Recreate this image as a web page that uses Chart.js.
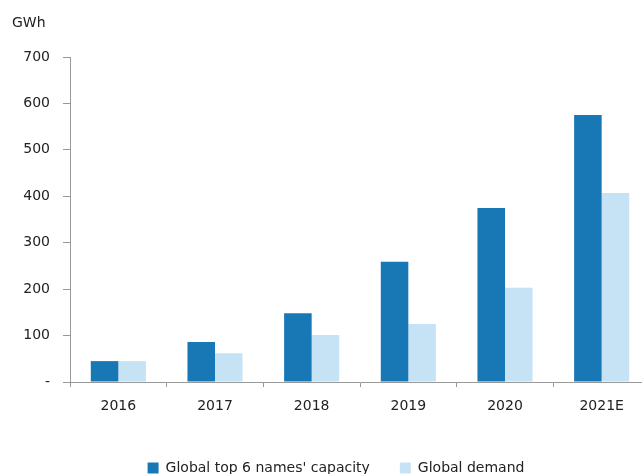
<!DOCTYPE html>
<html>
<head>
<meta charset="utf-8">
<script src="https://cdn.jsdelivr.net/npm/chart.js@4"></script>
<style>
  body { margin: 0; background: #fff; overflow: hidden; }
  #wrap { width: 642px; height: 474px; overflow: hidden; }
  #wrap div { width: 650px; height: 485px; }
</style>
</head>
<body>
<div id="wrap"><div><canvas id="capacityChart"></canvas></div></div>
<script>
var years = ['2016', '2017', '2018', '2019', '2020', '2021E'];
var top6Capacity = [45, 86, 148, 259, 375, 575];
var globalDemand = [45, 62, 101, 125, 203, 407];
var yTicks = [0, 100, 200, 300, 400, 500, 600, 700];

var font = "'DejaVu Sans', sans-serif";

// unit label above the value axis
var unitLabel = {
	id: 'unitLabel',
	afterDraw: function(chart) {
		var ctx = chart.ctx;
		ctx.save();
		ctx.font = '14px ' + font;
		ctx.fillStyle = '#222';
		ctx.textBaseline = 'middle';
		ctx.fillText('GWh', 12, 23);
		ctx.restore();
	}
};

const ctx = document.getElementById('capacityChart').getContext('2d');
const myChart = new Chart(ctx, {
	type: 'bar',
	data: {
		labels: years,
		datasets: [{
			label: "Global top 6 names' capacity",
			data: top6Capacity,
			backgroundColor: '#1878b5',
			categoryPercentage: 0.57,
			barPercentage: 1
		}, {
			label: 'Global demand',
			data: globalDemand,
			backgroundColor: '#c6e3f6',
			categoryPercentage: 0.57,
			barPercentage: 1
		}]
	},
	options: {
		responsive: true,
		maintainAspectRatio: false,
		animation: false,
		layout: { padding: { left: 22, right: 0, top: 57, bottom: 0 } },
		plugins: {
			tooltip: { enabled: false },
			legend: {
				position: 'bottom',
				labels: {
					color: '#222',
					font: { family: font, size: 14 },
					boxWidth: 11,
					boxHeight: 11,
					padding: 30
				}
			}
		},
		scales: {
			x: {
				grid: { display: true, offset: true, drawOnChartArea: false, tickLength: 5, color: '#999' },
				border: { color: '#999' },
				ticks: { color: '#222', font: { family: font, size: 14 }, padding: 11 },
				afterFit: function(scale) { scale.height = 49; }
			},
			y: {
				min: 0,
				max: 700,
				afterBuildTicks: function(scale) {
					scale.ticks = yTicks.map(function(v) { return { value: v }; });
				},
				grid: { display: true, drawOnChartArea: false, tickLength: 7, color: '#999' },
				border: { color: '#999' },
				ticks: {
					color: '#222',
					font: { family: font, size: 14 },
					padding: 13,
					callback: function(v) { return v === 0 ? '-' : v; }
				},
				afterFit: function(scale) { scale.width = 48; }
			}
		}
	},
	plugins: [unitLabel]
});
</script>
</body>
</html>
